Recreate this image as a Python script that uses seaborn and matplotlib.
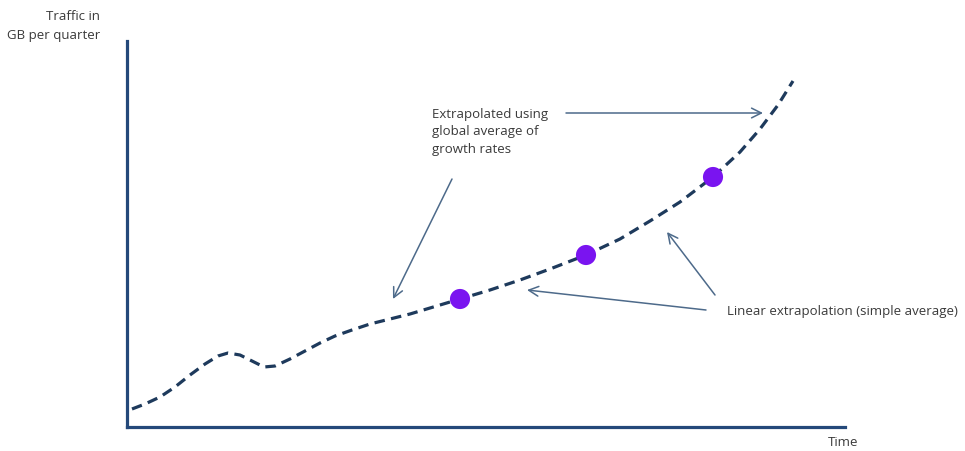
import matplotlib
matplotlib.use("Agg")
import matplotlib.pyplot as plt
import seaborn as sns
import pandas as pd

# Curve (time units, traffic units; origin at axes corner)
time = [5, 18, 33, 48, 63, 78, 91, 101, 113, 125, 137, 148, 163, 178, 193, 208,
        225, 243, 263, 283, 303, 333, 363, 393, 423, 459, 493, 523, 553, 586,
        613, 633, 651, 666]
traffic = [18, 23, 30, 40, 52, 63, 71, 74, 72, 66, 60, 61, 68, 76, 84, 91,
           97, 103, 108, 113, 119, 128, 137, 147, 158, 172, 188, 206, 225, 250,
           275, 298, 322, 346]

# Highlighted observation points
dot_time = [333, 459, 586]
dot_traffic = [128, 172, 250]

y_label = "Traffic in\nGB per quarter"
x_label = "Time"
note_global = "Extrapolated using\nglobal average of\ngrowth rates"
note_linear = "Linear extrapolation (simple average)"

sns.set_style("white")
plt.rcParams["font.family"] = ["Open Sans", "DejaVu Sans"]

fig = plt.figure(figsize=(9.65, 4.52), dpi=100)
ax = fig.add_axes([127 / 965, 24 / 452, 718 / 965, 386 / 452])

df = pd.DataFrame({"time": time, "traffic": traffic})
sns.lineplot(data=df, x="time", y="traffic", ax=ax, color="#1E3A5C",
             linewidth=2.3, sort=False)
ax.lines[0].set_dashes((3.3, 2.0))
ax.lines[0].set_dash_capstyle("butt")

dots = pd.DataFrame({"time": dot_time, "traffic": dot_traffic})
sns.scatterplot(data=dots, x="time", y="traffic", ax=ax, color="#7A14F0",
                s=210, edgecolor="none", zorder=5)

ax.set_xlim(0, 718)
ax.set_ylim(0, 386)
ax.set_xticks([])
ax.set_yticks([])
ax.set_xlabel("")
ax.set_ylabel("")
for side in ["top", "right"]:
    ax.spines[side].set_visible(False)
for side in ["left", "bottom"]:
    ax.spines[side].set_color("#24497A")
    ax.spines[side].set_linewidth(2.3)

txt = dict(color="#3A3A3A", fontsize=9.5)
fig.text(100 / 965, 1 - 26 / 452, y_label, ha="right", va="center",
         linespacing=1.5, **txt)
fig.text(858 / 965, 1 - 443 / 452, x_label, ha="right", va="center", **txt)
ax.text(305, 428 - 132, note_global, ha="left", va="center",
        linespacing=1.42, **txt)
ax.text(600, 428 - 312, note_linear, ha="left", va="center", **txt)

arrow = dict(arrowstyle="->,head_length=0.7,head_width=0.35", color="#4D6A8A",
             lw=1.1, shrinkA=0, shrinkB=0)
def arr(x0, y0, x1, y1):
    ax.annotate("", xy=(x1 - 127, 428 - y1), xytext=(x0 - 127, 428 - y0),
                arrowprops=arrow)

arr(566, 114, 763, 114)
arr(452, 180, 393, 300)
arr(706, 311, 527, 291)
arr(715, 296, 667, 233)

fig.savefig("out.png", dpi=100)
